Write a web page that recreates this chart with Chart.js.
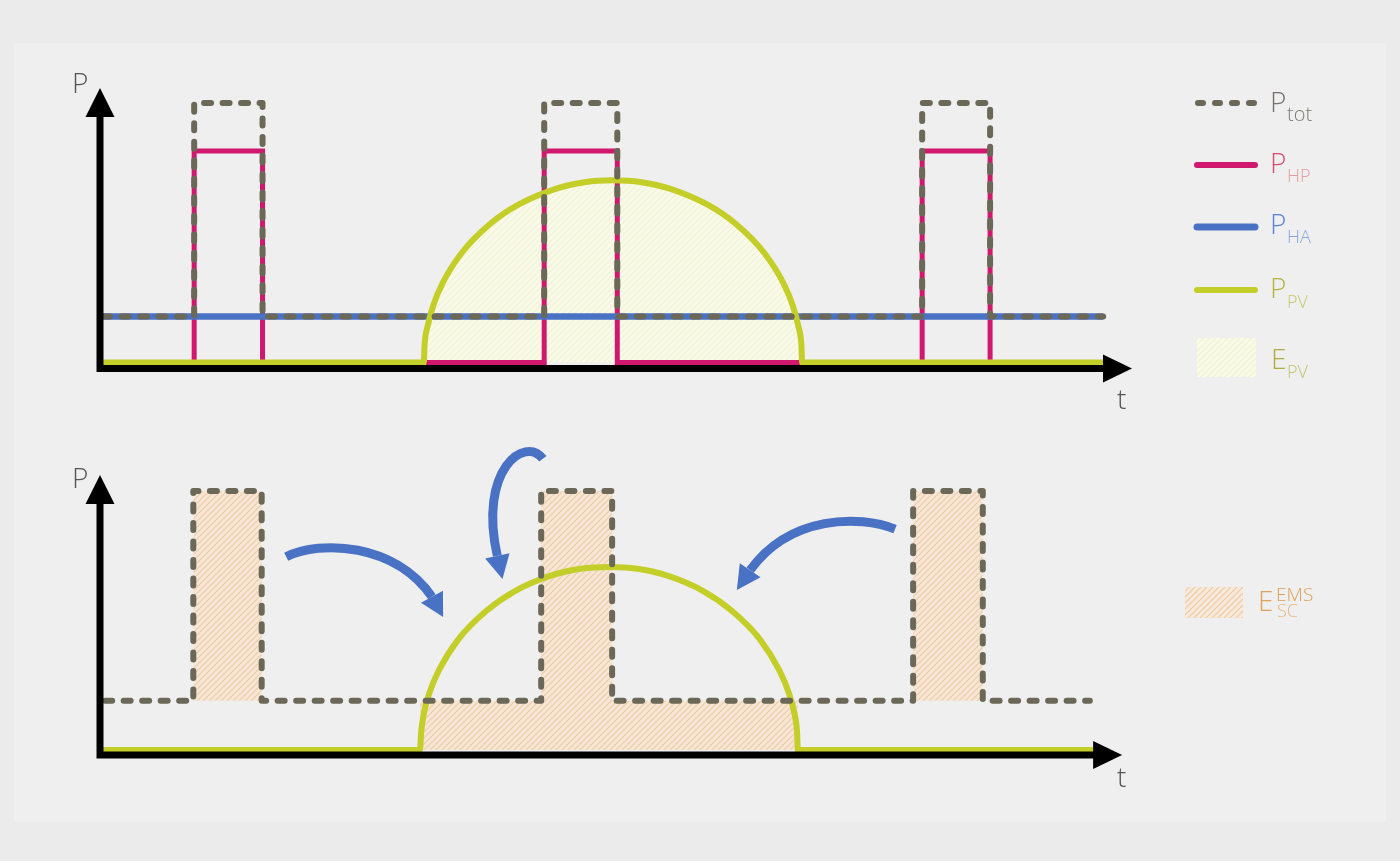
<!DOCTYPE html>
<html>
<head>
<meta charset="utf-8">
<script src="https://cdn.jsdelivr.net/npm/chart.js@4.4.1/dist/chart.umd.min.js"></script>
<style>
html, body { margin: 0; padding: 0; width: 1400px; height: 861px; overflow: hidden; background: #ebebeb; font-family: "Open Sans", sans-serif; font-weight: 300; }
#panel { position: absolute; left: 14px; top: 43px; width: 1372px; height: 779px; background: #efefef; }
canvas { position: absolute; left: 0; }
#top { top: 0; }
#bot { top: 430px; }
svg { position: absolute; left: 0; top: 0; }
.tx { position: absolute; line-height: 1; white-space: nowrap; }
.m { font-size: 28px; }
.s { font-size: 18px; }
</style>
</head>
<body>
<div id="panel"></div>
<canvas id="top" width="1170" height="430"></canvas>
<canvas id="bot" width="1170" height="431"></canvas>

<svg width="1400" height="861">
  <defs>
    <pattern id="hpv" width="6" height="6" patternUnits="userSpaceOnUse">
      <rect width="6" height="6" fill="#f9fae8"/>
      <path d="M0,6 L6,0 M-1,1 L1,-1 M5,7 L7,5" stroke="#eff1d3" stroke-width="1.2"/>
    </pattern>
    <pattern id="hems" width="6" height="6" patternUnits="userSpaceOnUse">
      <rect width="6" height="6" fill="#f7eadc"/>
      <path d="M0,6 L6,0 M-1,1 L1,-1 M5,7 L7,5" stroke="#f0c9a0" stroke-width="1.2"/>
    </pattern>
  </defs>
  <line x1="1198" y1="103" x2="1254" y2="103" stroke="#6b6858" stroke-width="6" stroke-dasharray="5 12" stroke-linecap="round"/>
  <line x1="1197" y1="165" x2="1255" y2="165" stroke="#d0186e" stroke-width="6" stroke-linecap="round"/>
  <line x1="1197" y1="227" x2="1255" y2="227" stroke="#4a72c4" stroke-width="7" stroke-linecap="round"/>
  <line x1="1197" y1="290" x2="1255" y2="290" stroke="#c4ce28" stroke-width="6" stroke-linecap="round"/>
  <rect x="1197" y="338" width="59" height="39" fill="url(#hpv)"/>
  <rect x="1185" y="587" width="58" height="31" fill="url(#hems)"/>
</svg>

<span class="tx m" style="left:1270px;top:87px;color:#74726b">P</span>
<span class="tx s" style="left:1287px;top:104px;font-size:20px;color:#7d7b74">tot</span>
<span class="tx m" style="left:1270px;top:148px;color:#d94a70">P</span>
<span class="tx s" style="left:1287px;top:166px;color:#e69c9c">HP</span>
<span class="tx m" style="left:1270px;top:209px;color:#5a82d4">P</span>
<span class="tx s" style="left:1287px;top:227px;color:#86a6e2">HA</span>
<span class="tx m" style="left:1270px;top:273px;color:#b3b440">P</span>
<span class="tx s" style="left:1287px;top:292px;color:#c7ca6e">PV</span>
<span class="tx m" style="left:1271px;top:344px;color:#b0ae42">E</span>
<span class="tx s" style="left:1287px;top:362px;color:#c5c570">PV</span>
<span class="tx m" style="left:1258px;top:586px;color:#e0a25a">E</span>
<span class="tx s" style="left:1276px;top:585px;font-size:19px;color:#df9f55">EMS</span>
<span class="tx s" style="left:1277px;top:601px;color:#e8b67c">SC</span>

<script>
// t in hours (0..24), P in relative units
// upper chart: without EMS
const topHpOn = [2.19, 10.33, 19.12];
const topHpOff = [3.78, 12.03, 20.70];
const topSpan = [0.07, 23.33];
const topPvSpan = [0.07, 23.37];
const pHA = 1.0;
const pHP = 4.6;
const topTot = [1.0, 5.64];
const topPvT = [7.53, 7.55, 7.62, 7.75, 7.97, 8.41, 9.07, 9.73, 10.61, 11.27, 11.93,
                12.59, 13.25, 14.13, 14.79, 15.45, 15.89, 16.11, 16.24, 16.31, 16.33];
const topPvP = [0, 0.40, 0.79, 1.24, 1.73, 2.38, 3.01, 3.43, 3.78, 3.92, 3.96,
                3.92, 3.78, 3.43, 3.01, 2.38, 1.73, 1.24, 0.79, 0.40, 0];

// lower chart: with EMS
const botHpOn = [2.17, 10.26, 18.91];
const botHpOff = [3.76, 11.91, 20.53];
const botSpan = [0.12, 23.02];
const botPvSpan = [0.07, 23.09];
const botTot = [1.07, 5.63];
const botPvT = [7.44, 7.47, 7.53, 7.66, 7.88, 8.32, 8.98, 9.64, 10.52, 11.18, 11.84,
                12.50, 13.16, 14.04, 14.70, 15.36, 15.80, 16.02, 16.15, 16.21, 16.23];
const botPvP = [0, 0.40, 0.79, 1.24, 1.73, 2.39, 3.02, 3.45, 3.80, 3.94, 3.98,
                3.94, 3.80, 3.45, 3.02, 2.39, 1.73, 1.24, 0.79, 0.40, 0];

// blue arrows: start, control 1, control 2, end of shaft, tip
const arrowLeft = [[4.33, 4.20], [5.12, 4.57], [6.86, 4.50], [7.72, 3.33], [7.98, 2.89]];
const arrowTop = [[10.30, 6.33], [9.88, 6.85], [8.79, 6.09], [9.24, 4.22], [9.36, 3.72]];
const arrowRight = [[18.49, 4.80], [17.67, 5.11], [16.05, 5.11], [15.12, 3.91], [14.81, 3.48]];

const C_TOT = '#6b6858';
const C_HP = '#d0186e';
const C_HA = '#4a72c4';
const C_PV = '#c4ce28';

function steps(on, off, base, high, t0, t1) {
    const pts = [{x: t0, y: base}];
    on.forEach(function (a, i) {
        pts.push({x: a, y: base}, {x: a, y: high}, {x: off[i], y: high}, {x: off[i], y: base});
    });
    pts.push({x: t1, y: base});
    return pts;
}

function pvLine(ts, ps, span) {
    const pts = [{x: span[0], y: 0}];
    ts.forEach(function (t, i) { pts.push({x: t, y: ps[i]}); });
    pts.push({x: span[1], y: 0});
    return pts;
}

function hatch(ctx, bg, line) {
    const c = document.createElement('canvas');
    c.width = c.height = 6;
    const g = c.getContext('2d');
    g.fillStyle = bg;
    g.fillRect(0, 0, 6, 6);
    g.strokeStyle = line;
    g.lineWidth = 1.2;
    g.beginPath();
    g.moveTo(0, 6); g.lineTo(6, 0);
    g.moveTo(-1, 1); g.lineTo(1, -1);
    g.moveTo(5, 7); g.lineTo(7, 5);
    g.stroke();
    return ctx.createPattern(c, 'repeat');
}

const axesPlugin = {
    id: 'axes',
    afterDatasetsDraw(chart, args, o) {
        const ctx = chart.ctx;
        const x = chart.scales.x, y = chart.scales.y;
        const x0 = x.getPixelForValue(o.yAxisAt);
        const y0 = y.getPixelForValue(o.xAxisAt);
        const yt = y.getPixelForValue(o.yTip);
        const xt = x.getPixelForValue(o.xTip);
        ctx.save();
        ctx.strokeStyle = '#000';
        ctx.fillStyle = '#000';
        ctx.lineWidth = 7;
        ctx.beginPath();
        ctx.moveTo(x0, y0 + 3.5); ctx.lineTo(x0, yt + 25);
        ctx.moveTo(x0 - 3.5, y0); ctx.lineTo(xt - 25, y0);
        ctx.stroke();
        ctx.beginPath();
        ctx.moveTo(x0, yt); ctx.lineTo(x0 - 14.5, yt + 29); ctx.lineTo(x0 + 14.5, yt + 29);
        ctx.closePath(); ctx.fill();
        ctx.beginPath();
        ctx.moveTo(xt, y0); ctx.lineTo(xt - 29, y0 - 14); ctx.lineTo(xt - 29, y0 + 14);
        ctx.closePath(); ctx.fill();
        ctx.fillStyle = '#555';
        ctx.font = '300 28px "Open Sans"';
        ctx.fillText('P', x0 + o.pAt[0], yt + o.pAt[1]);
        ctx.fillText('t', xt + o.tAt[0], y0 + o.tAt[1]);
        ctx.restore();
    }
};

const arrowsPlugin = {
    id: 'arrows',
    afterDatasetsDraw(chart, args, o) {
        if (!o.paths) return;
        const ctx = chart.ctx;
        const x = chart.scales.x, y = chart.scales.y;
        const px = function (p) { return [x.getPixelForValue(p[0]), y.getPixelForValue(p[1])]; };
        ctx.save();
        ctx.strokeStyle = o.color;
        ctx.fillStyle = o.color;
        ctx.lineWidth = o.width;
        o.paths.forEach(function (a) {
            const s = px(a[0]), c1 = px(a[1]), c2 = px(a[2]), e = px(a[3]), t = px(a[4]);
            ctx.beginPath();
            ctx.moveTo(s[0], s[1]);
            ctx.bezierCurveTo(c1[0], c1[1], c2[0], c2[1], e[0], e[1]);
            ctx.stroke();
            const dx = t[0] - e[0], dy = t[1] - e[1], L = Math.hypot(dx, dy);
            const nx = -dy / L * o.head, ny = dx / L * o.head;
            ctx.beginPath();
            ctx.moveTo(t[0], t[1]);
            ctx.lineTo(e[0] + nx, e[1] + ny);
            ctx.lineTo(e[0] - nx, e[1] - ny);
            ctx.closePath();
            ctx.fill();
        });
        ctx.restore();
    }
};

function line(label, data, color, width, order, extra) {
    return Object.assign({
        label: label, data: data, borderColor: color, borderWidth: width,
        pointRadius: 0, fill: false, order: order, clip: false,
        borderCapStyle: 'butt', borderJoinStyle: 'miter'
    }, extra || {});
}

function options(padTop, padBottom, axes, arrows) {
    return {
        responsive: false,
        animation: false,
        events: [],
        layout: {padding: {left: 100, right: 38, top: padTop, bottom: padBottom}},
        scales: {
            x: {type: 'linear', min: 0, max: 24, display: false},
            y: {type: 'linear', min: -0.2, max: 6, display: false}
        },
        plugins: {
            legend: {display: false},
            tooltip: {enabled: false},
            filler: {drawTime: 'beforeDatasetsDraw'},
            axes: axes,
            arrows: arrows
        }
    };
}

const dash = {borderDash: [7, 11.5], borderCapStyle: 'round', borderJoinStyle: 'round'};

const topCtx = document.getElementById('top').getContext('2d');
new Chart(topCtx, {
    type: 'line',
    data: {
        datasets: [
            line('P_tot', steps(topHpOn, topHpOff, topTot[0], topTot[1], topSpan[0], topSpan[1]), C_TOT, 6, 0, dash),
            line('P_PV', pvLine(topPvT, topPvP, topPvSpan), C_PV, 6, 1, {
                fill: 'origin', backgroundColor: hatch(topCtx, '#f9fae8', '#f0f2d6'),
                cubicInterpolationMode: 'monotone', borderCapStyle: 'round'
            }),
            line('P_HA', [{x: topSpan[0], y: pHA}, {x: topSpan[1], y: pHA}], C_HA, 6.5, 2),
            line('P_HP', steps(topHpOn, topHpOff, 0, pHP, topSpan[0], topSpan[1]), C_HP, 5, 3)
        ]
    },
    options: options(86.5, 58.3,
        {yAxisAt: 0, xAxisAt: -0.13, yTip: 5.97, xTip: 24, pAt: [-28, 5], tAt: [-15, 41]},
        {}),
    plugins: [axesPlugin, arrowsPlugin]
});

const botCtx = document.getElementById('bot').getContext('2d');
const emsPattern = hatch(botCtx, '#f5e6d6', '#f0cba6');
const emsShift = steps([botHpOn[0], botHpOn[2]], [botHpOff[0], botHpOff[2]], botTot[0], botTot[1],
                       botHpOn[0], botHpOff[2]);
const pvStart = botPvT[0], pvEnd = botPvT[botPvT.length - 1];
const emsSelf = [{x: pvStart, y: 0}]
    .concat(steps([botHpOn[1]], [botHpOff[1]], botTot[0], botTot[1], pvStart, pvEnd))
    .concat([{x: pvEnd, y: 0}]);

new Chart(botCtx, {
    type: 'line',
    data: {
        datasets: [
            line('P_tot', steps(botHpOn, botHpOff, botTot[0], botTot[1], botSpan[0], botSpan[1]), C_TOT, 6, 0, dash),
            line('P_PV', pvLine(botPvT, botPvP, botPvSpan), C_PV, 6, 1, {
                cubicInterpolationMode: 'monotone', borderCapStyle: 'round'
            }),
            line('E_SC_EMS shifted', emsShift, 'transparent', 0, 2, {fill: {value: botTot[0]}, backgroundColor: emsPattern}),
            line('E_SC_EMS', emsSelf, 'transparent', 0, 3, {fill: 'origin', backgroundColor: emsPattern})
        ]
    },
    options: options(44, 101.8,
        {yAxisAt: 0, xAxisAt: -0.11, yTip: 5.98, xTip: 23.77, pAt: [-28, 13], tAt: [-5, 32]},
        {paths: [arrowLeft, arrowTop, arrowRight], color: C_HA, width: 9, head: 12.5}),
    plugins: [axesPlugin, arrowsPlugin]
});
</script>
</body>
</html>
